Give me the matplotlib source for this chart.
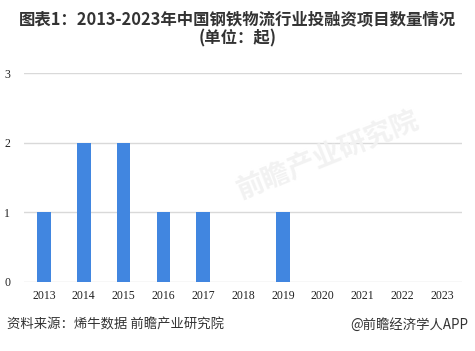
import numpy as np
import matplotlib
matplotlib.use('Agg')
import matplotlib.pyplot as plt

plt.rcParams['font.family'] = ['Noto Sans CJK SC', 'DejaVu Sans']

# 数据
years = ['2013', '2014', '2015', '2016', '2017', '2018', '2019', '2020', '2021', '2022', '2023']
counts = [1, 2, 2, 1, 1, 0, 1, 0, 0, 0, 0]

fig = plt.figure(figsize=(4.75, 3.51), dpi=100)
ax = fig.add_axes([0.0505, 0.1966, 0.9225, 0.5954])

x = np.arange(len(years))
ax.bar(x, counts, width=0.34, color='#4186E0', zorder=3)

ax.set_xlim(-0.5, len(years) - 0.5)
ax.set_ylim(0, 3)
ax.set_yticks([0, 1, 2, 3])
ax.set_xticks(x)
ax.set_xticklabels(years)
for lab in ax.get_xticklabels() + ax.get_yticklabels():
    lab.set_family('Liberation Serif')
    lab.set_fontsize(8.5)
    lab.set_color('#222222')

ax.grid(axis='y', color='#d9d9d9', linewidth=1, zorder=0)
for s in ax.spines.values():
    s.set_visible(False)
ax.tick_params(length=0, pad=6)
ax.tick_params(axis='y', pad=10)

# 标题
fig.text(0.5, 0.943, '图表1：2013-2023年中国钢铁物流行业投融资项目数量情况',
         ha='center', va='center', fontsize=11.8, fontweight='bold', color='#333333')
fig.text(0.5, 0.891, '(单位：起)', ha='center', va='center',
         fontsize=11.8, fontweight='bold', color='#333333')

# 水印
fig.text(0.69, 0.56, '前瞻产业研究院', ha='center', va='center', fontsize=20,
         fontweight='bold', color='#f2f2f2', rotation=22, zorder=0)

# 来源
fig.text(0.015, 0.074, '资料来源：烯牛数据 前瞻产业研究院', ha='left', va='center',
         fontsize=9.6, color='#333333')
fig.text(0.985, 0.074, '@前瞻经济学人APP', ha='right', va='center',
         fontsize=9.6, color='#333333')

fig.savefig('out.png', dpi=100)
